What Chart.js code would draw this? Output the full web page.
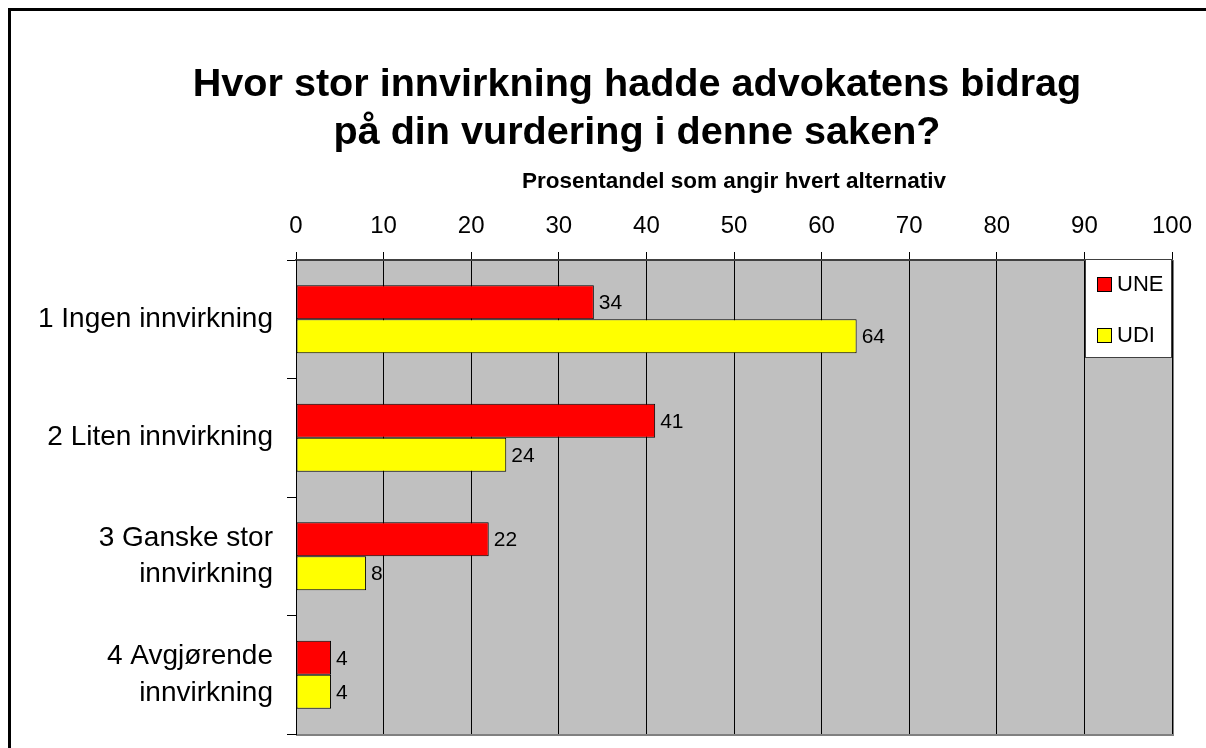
<!DOCTYPE html>
<html>
<head>
<meta charset="utf-8">
<script src="https://cdn.jsdelivr.net/npm/chart.js@4.4.0/dist/chart.umd.min.js"></script>
<style>
  html, body { margin: 0; padding: 0; background: #fff; }
  #wrap { width: 1206px; height: 748px; }
</style>
</head>
<body>
<div id="wrap"><canvas id="chart" width="1206" height="748"></canvas></div>
<script>
// ---- data ----
const kategorier = [
  "1 Ingen innvirkning",
  "2 Liten innvirkning",
  ["3 Ganske stor", "innvirkning"],
  ["4 Avgjørende", "innvirkning"]
];
const verdierUNE = [34, 41, 22, 4];
const verdierUDI = [64, 24, 8, 4];
const tittel = ["Hvor stor innvirkning hadde advokatens bidrag", "på din vurdering i denne saken?"];
const aksetittel = "Prosentandel som angir hvert alternativ";

const FONT = "Arial, 'Liberation Sans', sans-serif";

// bakgrunn, ramme og tittel
const tegnBakgrunn = {
  id: "tegnBakgrunn",
  beforeDraw(chart) {
    const { ctx, chartArea: a } = chart;
    ctx.save();
    ctx.fillStyle = "#c0c0c0";
    ctx.fillRect(a.left, a.top, a.right - a.left, a.bottom - a.top);
    ctx.strokeStyle = "#808080";
    ctx.lineWidth = 2;
    ctx.beginPath();
    ctx.moveTo(a.right + 1, a.top);
    ctx.lineTo(a.right + 1, a.bottom + 1);
    ctx.lineTo(a.left, a.bottom + 1);
    ctx.stroke();
    ctx.restore();
  },
  afterDraw(chart) {
    const ctx = chart.ctx;
    ctx.save();
    // ytre ramme
    ctx.strokeStyle = "#000";
    ctx.lineWidth = 3;
    ctx.beginPath();
    ctx.moveTo(1206, 9.5);
    ctx.lineTo(9.5, 9.5);
    ctx.lineTo(9.5, 748);
    ctx.stroke();
    // tittel
    ctx.fillStyle = "#000";
    ctx.font = "bold 39.6px " + FONT;
    ctx.textAlign = "center";
    ctx.textBaseline = "middle";
    ctx.fillText(tittel[0], 637, 85);
    ctx.fillText(tittel[1], 637, 133);
    ctx.restore();
  }
};

// verdier ved enden av stolpene
const verdiEtiketter = {
  id: "verdiEtiketter",
  afterDatasetsDraw(chart) {
    const ctx = chart.ctx;
    ctx.save();
    ctx.fillStyle = "#000";
    ctx.font = "21px " + FONT;
    ctx.textAlign = "left";
    ctx.textBaseline = "middle";
    chart.data.datasets.forEach((ds, i) => {
      chart.getDatasetMeta(i).data.forEach((bar, j) => {
        ctx.fillText(ds.data[j], bar.x + 5, bar.y + 1);
      });
    });
    ctx.restore();
  }
};

// forklaring inne i plottet
const forklaring = {
  id: "forklaring",
  afterDraw(chart) {
    const ctx = chart.ctx;
    const a = chart.chartArea;
    const x0 = 1085, y0 = 259, w = a.right - x0, h = 99;
    ctx.save();
    ctx.fillStyle = "#fff";
    ctx.fillRect(x0, y0, w, h);
    ctx.strokeStyle = "#404040";
    ctx.lineWidth = 1;
    ctx.strokeRect(x0 + 0.5, y0 + 0.5, w - 1, h - 1);
    ctx.font = "22px " + FONT;
    ctx.textBaseline = "middle";
    chart.data.datasets.forEach((ds, i) => {
      const y = 284 + i * 51;
      ctx.fillStyle = ds.backgroundColor;
      ctx.fillRect(x0 + 12, y - 7, 15, 15);
      ctx.strokeStyle = "#000";
      ctx.strokeRect(x0 + 12.5, y - 6.5, 14, 14);
      ctx.fillStyle = "#000";
      ctx.fillText(ds.label, x0 + 32, y + 1);
    });
    ctx.restore();
  }
};

new Chart(document.getElementById("chart"), {
  type: "bar",
  data: {
    labels: kategorier,
    datasets: [
      { label: "UNE", data: verdierUNE, backgroundColor: "#ff0000", borderColor: "#000", borderWidth: 1, borderSkipped: false },
      { label: "UDI", data: verdierUDI, backgroundColor: "#ffff00", borderColor: "#000", borderWidth: 1, borderSkipped: false }
    ]
  },
  options: {
    indexAxis: "y",
    responsive: false,
    animation: false,
    categoryPercentage: 0.575,
    barPercentage: 1,
    layout: { padding: { top: 157, right: 34, bottom: 14, left: 0 } },
    plugins: {
      legend: { display: false },
      title: { display: false },
      tooltip: { enabled: false }
    },
    scales: {
      x: {
        position: "top",
        min: 0,
        max: 100,
        ticks: { stepSize: 10, color: "#000", font: { family: FONT, size: 24 }, padding: 11 },
        grid: { color: "#000", lineWidth: 1, tickLength: 8 },
        border: { color: "#404040", width: 2 },
        title: {
          display: true,
          text: aksetittel,
          color: "#000",
          font: { family: FONT, size: 22.5, weight: "bold" },
          padding: { top: 11, bottom: 10 }
        },
        afterFit(scale) { scale.height = 103; scale.paddingLeft = 0; scale.paddingRight = 0; }
      },
      y: {
        ticks: { color: "#000", font: { family: FONT, size: 28, lineHeight: 1.3 }, padding: 14 },
        grid: { offset: true, drawOnChartArea: false, color: "#000", tickLength: 9 },
        border: { color: "#000", width: 1 },
        afterFit(scale) { scale.width = 296; scale.paddingTop = 0; scale.paddingBottom = 0; }
      }
    }
  },
  plugins: [tegnBakgrunn, verdiEtiketter, forklaring]
});
</script>
</body>
</html>
